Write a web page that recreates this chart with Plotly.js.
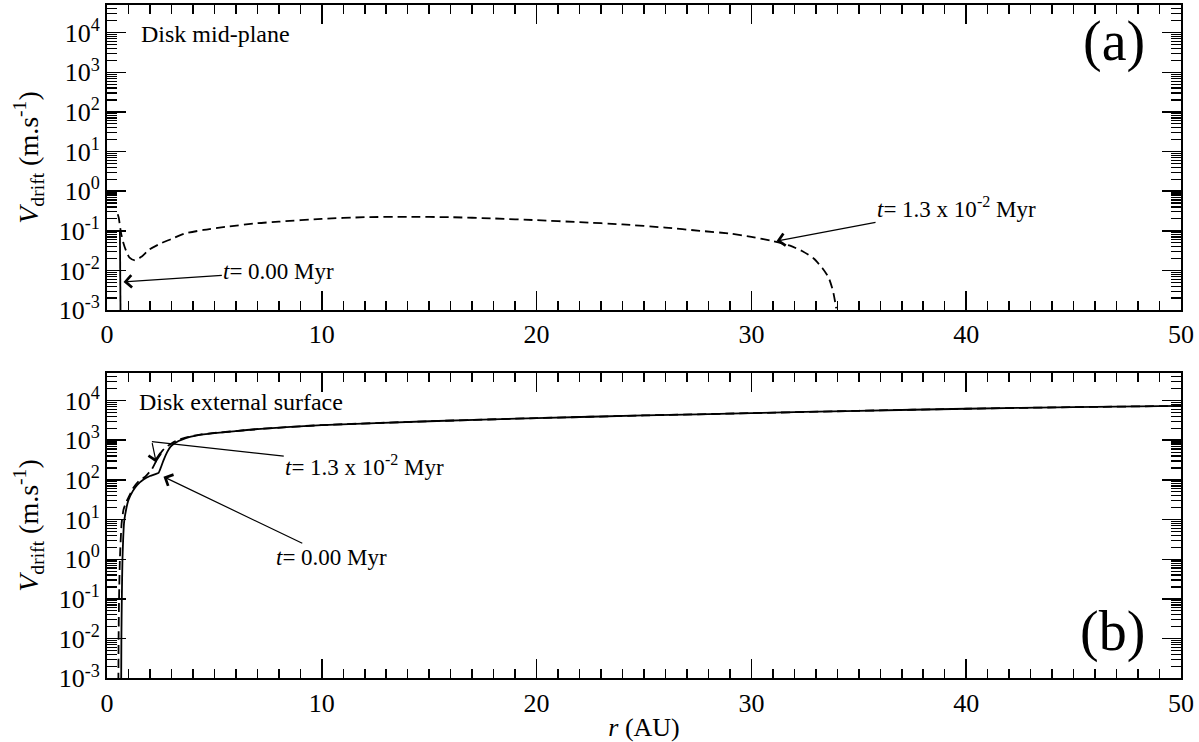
<!DOCTYPE html>
<html>
<head>
<meta charset="utf-8">
<script src="https://cdn.plot.ly/plotly-3.0.1.min.js"></script>
<style>html,body{margin:0;padding:0;background:#fff;}#chart{width:1199px;height:742px;}</style>
</head>
<body>
<div id="chart"></div>
<script>
// Panel (a): disk mid-plane
const rMid_t0 = [0.60, 0.62, 0.63];
const vMid_t0 = [0.105, 0.01, 0.0008];
const rMid_t13 = [0.50, 0.55, 0.65, 0.77, 0.9, 1.05, 1.3, 1.6, 1.95, 2.5, 3.0, 3.6, 4.5, 5.5, 7, 8, 10, 12, 14, 16, 18, 20, 22, 24, 26, 27.6, 29, 30, 31, 31.8, 32.4, 32.9, 33.3, 33.6, 33.8, 33.95];
const vMid_t13 = [0.26, 0.21, 0.09, 0.048, 0.03, 0.021, 0.018, 0.022, 0.033, 0.048, 0.062, 0.085, 0.105, 0.125, 0.155, 0.17, 0.2, 0.22, 0.225, 0.22, 0.205, 0.185, 0.165, 0.145, 0.12, 0.1, 0.085, 0.07, 0.055, 0.042, 0.03, 0.02, 0.0115, 0.0065, 0.003, 0.0011];

// Panel (b): disk external surface
const rSurf_t0 = [0.66, 0.67, 0.69, 0.72, 0.8, 0.9, 1.0, 1.2, 1.4, 1.7, 2.0, 2.25, 2.4, 2.5, 2.63, 2.8, 2.95, 3.1, 3.33, 3.7, 4.2, 5, 6, 7, 10, 15, 20, 25, 30, 35, 40, 45, 50];
const vSurf_t0 = [0.0008, 0.01, 0.1, 1, 9, 19, 31, 52, 74, 102, 125, 140, 150, 200, 310, 500, 680, 800, 950, 1150, 1320, 1500, 1700, 1900, 2400, 3000, 3600, 4200, 4800, 5500, 6200, 6800, 7300];
const rSurf_t13 = [0.53, 0.54, 0.56, 0.6, 0.68, 0.77, 0.9, 1.0, 1.2, 1.47, 1.78, 2.1, 2.4, 2.6, 2.8, 3.0, 3.2, 3.5, 3.9, 4.4, 5, 6, 7, 10, 15, 20, 25, 30, 35, 40, 45, 50];
const vSurf_t13 = [0.0008, 0.01, 0.1, 1, 8, 18, 28, 36, 60, 92, 120, 190, 390, 560, 700, 830, 950, 1100, 1250, 1400, 1520, 1700, 1900, 2400, 3000, 3600, 4200, 4800, 5500, 6200, 6800, 7300];

// Axis ticks
const logTickVals = [1e-3, 1e-2, 1e-1, 1e0, 1e1, 1e2, 1e3, 1e4];
const logTickText = ['10<sup>-3</sup>', '10<sup>-2</sup>', '10<sup>-1</sup>', '10<sup>0</sup>', '10<sup>1</sup>', '10<sup>2</sup>', '10<sup>3</sup>', '10<sup>4</sup>'];

const FONT = 'Liberation Serif';
const lineSolid = {color: '#000', width: 1.8};
const lineDash = {color: '#000', width: 1.8, dash: '9px,5px'};

const traces = [
  {x: rMid_t0, y: vMid_t0, xaxis: 'x', yaxis: 'y', mode: 'lines', line: lineSolid, name: 't=0.00 Myr', showlegend: false},
  {x: rMid_t13, y: vMid_t13, xaxis: 'x', yaxis: 'y', mode: 'lines', line: Object.assign({shape: 'spline', smoothing: 0.6}, lineDash), name: 't=1.3e-2 Myr', showlegend: false},
  {x: rSurf_t13, y: vSurf_t13, xaxis: 'x2', yaxis: 'y2', mode: 'lines', line: Object.assign({shape: 'spline', smoothing: 0.5}, lineDash), name: 't=1.3e-2 Myr', showlegend: false},
  {x: rSurf_t0, y: vSurf_t0, xaxis: 'x2', yaxis: 'y2', mode: 'lines', line: Object.assign({shape: 'spline', smoothing: 0.5}, lineSolid), name: 't=0.00 Myr', showlegend: false}
];

function xAx(anchor, withTitle) {
  const a = {
    range: [0, 50], dtick: 10, tick0: 0, anchor: anchor,
    ticks: 'inside', ticklen: 19, tickwidth: 1.5, tickcolor: '#000',
    minor: {dtick: 1, ticks: 'inside', ticklen: 9, tickwidth: 1.5, tickcolor: '#000', showgrid: false},
    showline: true, linewidth: 2, linecolor: '#000', mirror: 'allticks',
    showgrid: false, zeroline: false, automargin: false,
    tickfont: {family: FONT, size: 26, color: '#000'}
  };
  if (withTitle) {
    a.title = {text: '<i>r</i> (AU)', font: {family: FONT, size: 26, color: '#000'}, standoff: 4};
  }
  return a;
}
function yAx(anchor, domain) {
  return {
    type: 'log', range: [-3, 4.7], domain: domain, anchor: anchor,
    tickvals: logTickVals, ticktext: logTickText,
    ticks: 'inside', ticklen: 19, tickwidth: 1.5, tickcolor: '#000',
    minor: {dtick: 'D1', ticks: 'inside', ticklen: 10, tickwidth: 1.2, tickcolor: '#000', showgrid: false},
    showline: true, linewidth: 2, linecolor: '#000', mirror: 'allticks',
    showgrid: false, zeroline: false, automargin: false,
    tickfont: {family: FONT, size: 26, color: '#000'},
    title: {text: '<i>V</i><sub>drift</sub> (m.s<sup>-1</sup>)', font: {family: FONT, size: 28, color: '#000'}, standoff: 12}
  };
}

const tFont = {family: FONT, size: 23, color: '#000'};
const annotations = [
  {xref: 'x', yref: 'y', x: 0.77, y: -2.29, ax: 8.0, ay: -2.03, axref: 'x', ayref: 'y',
   text: '<i>t</i>= 0.00 Myr', font: tFont, showarrow: true, arrowhead: 4, arrowsize: 2, arrowwidth: 1.2, arrowcolor: '#000'},
  {xref: 'x', yref: 'y', x: 31.17, y: -1.26, ax: 39.55, ay: -0.4, axref: 'x', ayref: 'y',
   text: '<i>t</i>= 1.3 x 10<sup>-2</sup> Myr', font: tFont, showarrow: true, arrowhead: 4, arrowsize: 2, arrowwidth: 1.2, arrowcolor: '#000'},
  {xref: 'x2', yref: 'y2', x: 2.09, y: 2.966, ax: 12.0, ay: 2.37, axref: 'x2', ayref: 'y2',
   text: '<i>t</i>= 1.3 x 10<sup>-2</sup> Myr', font: tFont, showarrow: true, arrowhead: 0, arrowwidth: 1.2, arrowcolor: '#000'},
  {xref: 'x2', yref: 'y2', x: 2.29, y: 2.44, ax: 2.09, ay: 2.966, axref: 'x2', ayref: 'y2',
   text: '', showarrow: true, arrowhead: 4, arrowsize: 2, arrowwidth: 1.2, arrowcolor: '#000'},
  {xref: 'x2', yref: 'y2', x: 2.63, y: 2.08, ax: 10.45, ay: 0.05, axref: 'x2', ayref: 'y2',
   text: '<i>t</i>= 0.00 Myr', font: tFont, showarrow: true, arrowhead: 4, arrowsize: 2, arrowwidth: 1.2, arrowcolor: '#000'},
  {xref: 'x', yref: 'y', x: 1.5, y: 3.97, xanchor: 'left', yanchor: 'middle', showarrow: false,
   text: 'Disk mid-plane', font: {family: FONT, size: 24, color: '#000'}},
  {xref: 'x2', yref: 'y2', x: 1.4, y: 3.97, xanchor: 'left', yanchor: 'middle', showarrow: false,
   text: 'Disk external surface', font: {family: FONT, size: 24, color: '#000'}},
  {xref: 'x', yref: 'y', x: 48.4, y: 3.79, xanchor: 'right', yanchor: 'middle', showarrow: false,
   text: '(a)', font: {family: FONT, size: 56, color: '#000'}},
  {xref: 'x2', yref: 'y2', x: 48.4, y: -1.81, xanchor: 'right', yanchor: 'middle', showarrow: false,
   text: '(b)', font: {family: FONT, size: 56, color: '#000'}}
];

const layout = {
  width: 1199, height: 742,
  margin: {l: 107, r: 18, t: 0, b: 0},
  paper_bgcolor: '#fff', plot_bgcolor: '#fff',
  showlegend: false,
  xaxis: xAx('y', false),
  yaxis: yAx('x', [0.5822, 0.9933]),
  xaxis2: xAx('y2', true),
  yaxis2: yAx('x2', [0.0858, 0.4977]),
  annotations: annotations,
  font: {family: FONT, size: 22, color: '#000'}
};

Plotly.newPlot('chart', traces, layout, {displayModeBar: false, staticPlot: true});
</script>
</body>
</html>
